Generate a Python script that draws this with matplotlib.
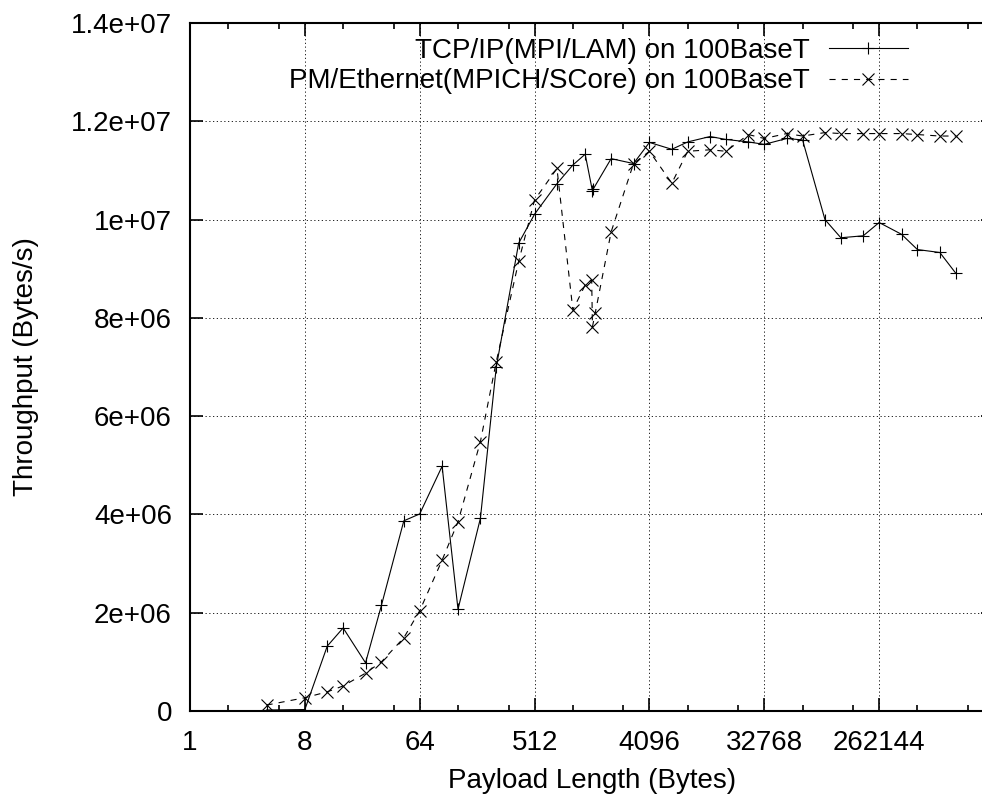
import matplotlib
matplotlib.use("Agg")
import matplotlib.pyplot as plt
from matplotlib.ticker import FixedLocator, NullFormatter

# payload sizes (bytes) and throughput (bytes/s)
tcp_size = [4, 8, 12, 16, 24, 32, 48, 64, 96, 128, 192, 256, 384, 512, 768, 1024,
            1280, 1460, 1480, 2048, 3072, 4096, 6144, 8192, 12288, 16384, 24576,
            32768, 49152, 65536, 98304, 131072, 196608, 262144, 393216, 524288,
            786432, 1048576]
tcp_tput = [0.02e6, 0.03e6, 1.32e6, 1.69e6, 0.98e6, 2.15e6, 3.87e6, 4.01e6, 4.98e6,
            2.07e6, 3.92e6, 7.0e6, 9.52e6, 1.011e7, 1.073e7, 1.111e7, 1.133e7,
            1.058e7, 1.062e7, 1.124e7, 1.114e7, 1.157e7, 1.143e7, 1.158e7, 1.169e7,
            1.163e7, 1.158e7, 1.153e7, 1.165e7, 1.162e7, 1.0e7, 9.63e6, 9.67e6,
            9.94e6, 9.70e6, 9.39e6, 9.33e6, 8.91e6]

pm_size = [4, 8, 12, 16, 24, 32, 48, 64, 96, 128, 192, 256, 384, 512, 768, 1024,
           1280, 1440, 1460, 1536, 2048, 3072, 4096, 6144, 8192, 12288, 16384, 24576,
           32768, 49152, 65536, 98304, 131072, 196608, 262144, 393216, 524288,
           786432, 1048576]
pm_tput = [0.12e6, 0.27e6, 0.39e6, 0.51e6, 0.77e6, 1.00e6, 1.49e6, 2.04e6, 3.07e6,
           3.85e6, 5.48e6, 7.11e6, 9.15e6, 1.04e7, 1.104e7, 8.16e6, 8.67e6, 8.77e6,
           7.82e6, 8.1e6, 9.75e6, 1.114e7, 1.139e7, 1.074e7, 1.139e7, 1.142e7,
           1.139e7, 1.173e7, 1.165e7, 1.175e7, 1.170e7, 1.177e7, 1.175e7, 1.175e7,
           1.175e7, 1.175e7, 1.173e7, 1.170e7, 1.170e7]

labels = ["TCP/IP(MPI/LAM) on 100BaseT", "PM/Ethernet(MPICH/SCore) on 100BaseT"]

xticks = [1, 8, 64, 512, 4096, 32768, 262144]
xtick_labels = ["1", "8", "64", "512", "4096", "32768", "262144"]
xminor = [2, 5, 16, 40, 128, 320, 1024, 2560, 8192, 20480, 65536, 163840,
          524288, 1310720]
yticks = [0, 2e6, 4e6, 6e6, 8e6, 1e7, 1.2e7, 1.4e7]
ytick_labels = ["0", "2e+06", "4e+06", "6e+06", "8e+06", "1e+07", "1.2e+07", "1.4e+07"]

plt.rc('font', family=['Liberation Sans', 'DejaVu Sans'], size=20)

fig = plt.figure(figsize=(9.82, 7.97), dpi=100)
# right border sits just past the image edge, as in the original
ax = fig.add_axes([190/982, 86/797, 804/982, 688/797])

ax.plot(tcp_size, tcp_tput, color="black", lw=0.8, marker="+", markersize=8,
        markeredgewidth=0.8, label=labels[0], zorder=3)
ax.plot(pm_size, pm_tput, color="black", lw=0.8, linestyle=(0, (5.5, 5.5)),
        marker="x", markersize=8.5, markeredgewidth=0.8, label=labels[1], zorder=3)

ax.set_xscale("log", base=2)
ax.set_xlim(1, 2**21)
ax.set_ylim(0, 1.4e7)

ax.xaxis.set_major_locator(FixedLocator(xticks))
ax.set_xticklabels(xtick_labels)
ax.xaxis.set_minor_locator(FixedLocator(xminor))
ax.xaxis.set_minor_formatter(NullFormatter())
ax.set_yticks(yticks)
ax.set_yticklabels(ytick_labels)

ax.tick_params(which="both", direction="in", top=True, right=True, width=1.2)
ax.tick_params(which="major", length=9.5)
ax.tick_params(which="minor", length=4.5)
ax.tick_params(axis="x", pad=14)
ax.tick_params(axis="y", pad=13)

for s in ax.spines.values():
    s.set_linewidth(1.5)

ax.grid(True, which="major", color="black", linestyle=(0, (1.5, 3)), linewidth=0.6)

ax.set_xlabel("Payload Length (Bytes)", labelpad=8)
ax.set_ylabel("Throughput (Bytes/s)", labelpad=23)

fig.legend(loc="upper right", bbox_to_anchor=(908/982, 1 - 38/797),
           frameon=False, markerfirst=False, handlelength=2.85, handletextpad=0.68,
           labelspacing=0.16, borderpad=0, borderaxespad=0)

plt.savefig("out.png", dpi=100)
